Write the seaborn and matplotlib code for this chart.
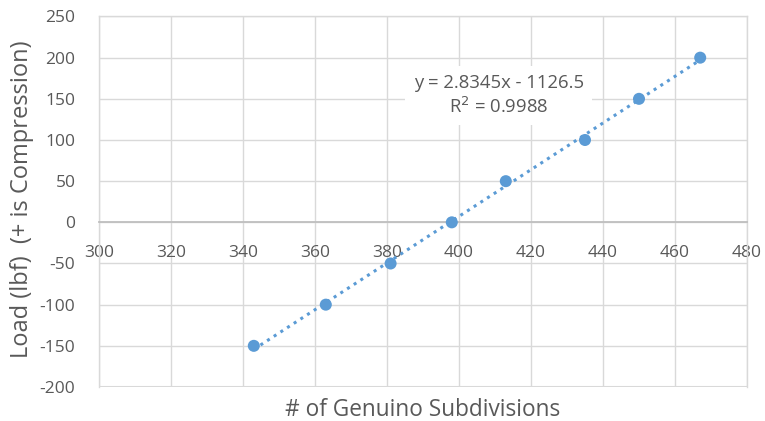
import matplotlib
matplotlib.use("Agg")
import matplotlib.pyplot as plt
import seaborn as sns
import numpy as np

# data
subdivisions = [343, 363, 381, 398, 413, 435, 450, 467]
load_lbf = [-150, -100, -50, 0, 50, 100, 150, 200]
x_ticks = [300, 320, 340, 360, 380, 400, 420, 440, 460, 480]
y_ticks = [-200, -150, -100, -50, 0, 50, 100, 150, 200, 250]

sns.set_theme(style="white")
plt.rcParams["font.family"] = ["Open Sans", "DejaVu Sans"]
plt.rcParams["axes.unicode_minus"] = False

blue = "#5B9BD5"
grid_c = "#D9D9D9"
text_c = "#595959"

fig = plt.figure(figsize=(7.65, 4.21), dpi=100)
ax = fig.add_axes([99 / 765, 1 - 387 / 421, (747 - 99) / 765, (387 - 16.5) / 421])

sns.regplot(x=subdivisions, y=load_lbf, ax=ax, ci=None,
            scatter_kws=dict(s=75, color=blue, edgecolor="none", zorder=4, alpha=1),
            line_kws=dict(color=blue, linestyle=(0, (1, 1.6)), linewidth=2.2, zorder=3))

ax.set_xlim(300, 480)
ax.set_ylim(-200, 250)
ax.set_xticks(x_ticks)
ax.set_yticks(y_ticks)
ax.grid(True, color=grid_c, linewidth=1)
ax.set_axisbelow(True)

# plot-area border drawn like the gridlines
for side in ["top", "right", "left"]:
    ax.spines[side].set_visible(True)
    ax.spines[side].set_color(grid_c)
    ax.spines[side].set_linewidth(1)
ax.axhline(-200, color=grid_c, linewidth=1.5, zorder=0)
ax.spines["bottom"].set_position(("data", 0))
ax.spines["bottom"].set_color("#BFBFBF")
ax.spines["bottom"].set_linewidth(1.3)

ax.tick_params(axis="both", length=0, labelsize=12.5, labelcolor=text_c)
ax.tick_params(axis="y", pad=17)
ax.tick_params(axis="x", pad=16)

ax.set_xlabel("")
fig.text((99 + 747) / 2 / 765, 1 - 410 / 421, "# of Genuino Subdivisions",
         ha="center", va="center", fontsize=16.3, color=text_c)
fig.text(22 / 765, 1 - 199 / 421, "Load (lbf)  (+ is Compression)", rotation=90,
         ha="center", va="center", fontsize=17, color=text_c)

slope, intercept = np.polyfit(subdivisions, load_lbf, 1)
r2 = np.corrcoef(subdivisions, load_lbf)[0, 1] ** 2
ax.text(411, 154, "y = 2.8345x - 1126.5\nR$^2$ = 0.9988", ha="center", va="center",
        fontsize=13.3, color=text_c, linespacing=1.3, zorder=5,
        bbox=dict(facecolor="white", edgecolor="none", pad=6))

fig.savefig("out.png", dpi=100)
